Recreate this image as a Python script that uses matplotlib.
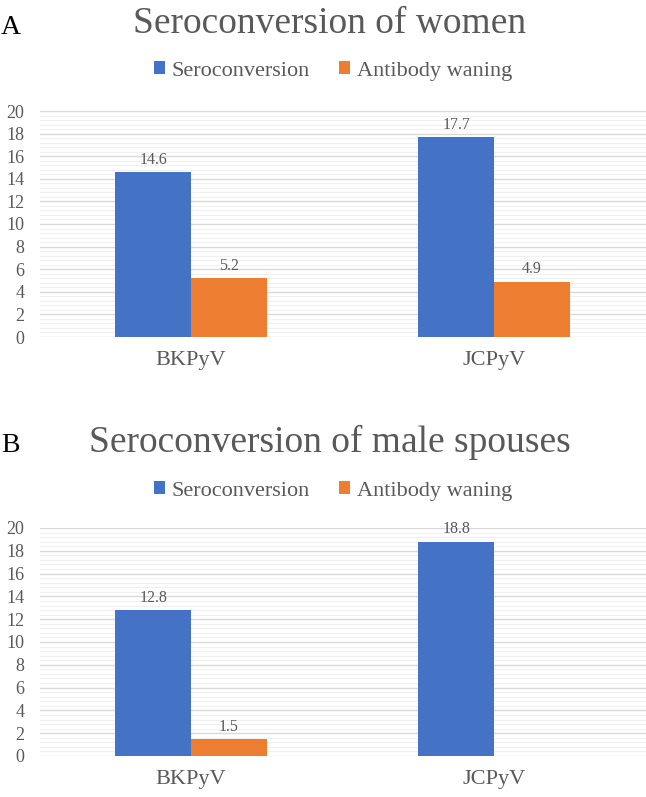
import numpy as np
import matplotlib.pyplot as plt
from matplotlib.ticker import MultipleLocator

categories = ['BKPyV', 'JCPyV']
series = ['Seroconversion', 'Antibody waning']
women_sero = [14.6, 17.7]
women_wane = [5.2, 4.9]
men_sero = [12.8, 18.8]
men_wane = [1.5, 0.0]
panels = ['A', 'B']
titles = ['Seroconversion of women', 'Seroconversion of male spouses']

blue = '#4472C4'
orange = '#ED7D31'
grey = '#595959'

plt.rcParams['font.family'] = ['Liberation Serif', 'DejaVu Serif']

W, H = 646, 797
fig = plt.figure(figsize=(W / 100, H / 100), dpi=100)

# pixel layout: (axes top, axes bottom, title baseline, legend centre, panel letter baseline)
layout = [(111, 337, 33, 71, 34), (528, 756, 452, 491, 452)]
left_px, right_px = 39.5, 645.5

x = np.arange(len(categories))
bw = 0.25

for k, (sero, wane) in enumerate([(women_sero, women_wane), (men_sero, men_wane)]):
    top, bot, ty, ly, py = layout[k]
    ax = fig.add_axes([left_px / W, 1 - bot / H, (right_px - left_px) / W, (bot - top) / H])
    b1 = ax.bar(x - bw / 2, sero, bw, color=blue, label=series[0], zorder=3)
    b2 = ax.bar(x + bw / 2, wane, bw, color=orange, label=series[1], zorder=3)
    for bars, vals in [(b1, sero), (b2, wane)]:
        for r, v in zip(bars, vals):
            if v > 0:
                ax.annotate(f'{v:.1f}', (r.get_x() + r.get_width() / 2, v),
                            xytext=(0, 6), textcoords='offset points',
                            ha='center', va='baseline', fontsize=11.5, color=grey)
    ax.set_xlim(-0.5, 1.5)
    ax.set_ylim(0, 20)
    ax.yaxis.set_major_locator(MultipleLocator(2))
    ax.yaxis.set_minor_locator(MultipleLocator(0.4))
    ax.grid(which='major', axis='y', color='#d9d9d9', lw=1.0, zorder=0)
    ax.grid(which='minor', axis='y', color='#f0f0f0', lw=0.8, zorder=0)
    ax.set_xticks(x)
    ax.set_xticklabels(categories, fontsize=16, color=grey)
    ax.tick_params(axis='both', which='both', length=0, labelcolor=grey)
    ax.tick_params(axis='y', labelsize=13, pad=11)
    ax.tick_params(axis='x', pad=10)
    for s in ax.spines.values():
        s.set_visible(False)

    fig.text(330 / W, 1 - ty / H, titles[k], ha='center', va='baseline',
             fontsize=27, color=grey)
    fig.text(1 / W, 1 - py / H, panels[k], ha='left', va='baseline',
             fontsize=20, color='black')
    ax.legend(loc='center', bbox_to_anchor=(333 / W, 1 - ly / H),
              bbox_transform=fig.transFigure, ncol=2, frameon=False,
              fontsize=16, handlelength=0.5, handleheight=0.5,
              handletextpad=0.3, columnspacing=1.3, labelcolor=grey,
              borderpad=0, borderaxespad=0)

fig.savefig('out.png', dpi=100)
